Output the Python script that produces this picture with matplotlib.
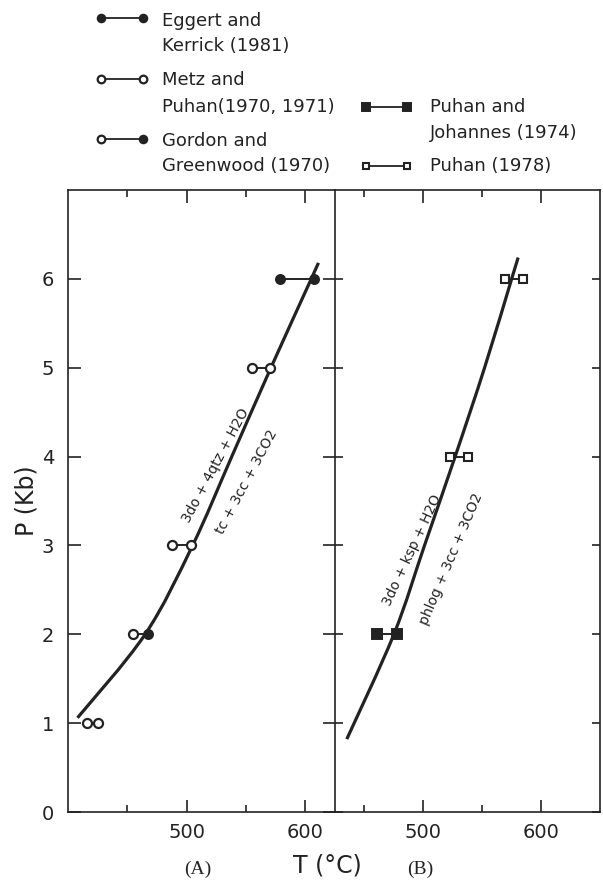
import matplotlib
matplotlib.use("Agg")
import matplotlib.pyplot as plt
from matplotlib.path import Path
from matplotlib.patches import PathPatch

# ---------------- data ----------------
# (A) 3do + 4qtz + H2O = tc + 3cc + 3CO2  (curve knots, T in degC, P in kb)
curve_a_T = [408, 465, 505, 538, 571, 605, 611]
curve_a_P = [1.06, 2.0, 3.0, 4.0, 5.0, 6.0, 6.18]

eggert_T = [579, 607]
eggert_P = 6
metz_T = [[416, 425], [488, 504], [555, 570]]
metz_P = [1, 3, 5]
gordon_T = [455, 467]
gordon_P = 2

# (B) 3do + ksp + H2O = phlog + 3cc + 3CO2
curve_b_T = [435, 475, 501, 527, 552, 575, 580.5]
curve_b_P = [0.82, 2.0, 3.0, 4.0, 5.0, 6.0, 6.24]

puhan_joh_T = [461, 478]
puhan_joh_P = 2
puhan78_T = [[523, 538], [569, 585]]
puhan78_P = [4, 6]

x_ticks = [500, 600]
x_minor = [450, 550]
y_ticks = [0, 1, 2, 3, 4, 5, 6]

legend_left = [
    ("filled", "filled", ["Eggert and", "Kerrick (1981)"]),
    ("open", "open", ["Metz and", "Puhan(1970, 1971)"]),
    ("open", "filled", ["Gordon and", "Greenwood (1970)"]),
]
legend_right = [
    ("sfilled", "sfilled", ["Puhan and", "Johannes (1974)"]),
    ("sopen", "sopen", ["Puhan (1978)"]),
]

INK = "#222222"
plt.rcParams["font.family"] = ["DejaVu Sans"]

fig = plt.figure(figsize=(6.03, 8.85), dpi=100)
W, H = 603, 885

ax_a = fig.add_axes([68 / W, 1 - 812 / H, 267 / W, 622 / H])
ax_b = fig.add_axes([335 / W, 1 - 812 / H, 265 / W, 622 / H])


def smooth_curve(ax, xs, ys, lw=2.3):
    """Draw a Catmull-Rom style Bezier path through the knots."""
    pts = list(zip(xs, ys))
    n = len(pts)
    verts = [pts[0]]
    codes = [Path.MOVETO]
    for i in range(n - 1):
        p0 = pts[i - 1] if i > 0 else pts[i]
        p1 = pts[i]
        p2 = pts[i + 1]
        p3 = pts[i + 2] if i + 2 < n else pts[i + 1]
        c1 = (p1[0] + (p2[0] - p0[0]) / 6, p1[1] + (p2[1] - p0[1]) / 6)
        c2 = (p2[0] - (p3[0] - p1[0]) / 6, p2[1] - (p3[1] - p1[1]) / 6)
        verts += [c1, c2, p2]
        codes += [Path.CURVE4] * 3
    ax.add_patch(PathPatch(Path(verts, codes), fill=False, lw=lw, edgecolor=INK,
                           capstyle="butt", zorder=2))


def marker_style(kind, size=6.5):
    if kind == "filled":
        return dict(marker="o", ms=size, mfc=INK, mec=INK, mew=1.4)
    if kind == "open":
        return dict(marker="o", ms=size, mfc="white", mec=INK, mew=1.6)
    if kind == "sfilled":
        return dict(marker="s", ms=size, mfc=INK, mec=INK, mew=1.4)
    return dict(marker="s", ms=size - 0.5, mfc="white", mec=INK, mew=1.5)


def pair(ax, T, P, left, right, size=6.5):
    ax.plot(T, [P, P], color=INK, lw=1.4, zorder=3, solid_capstyle="butt")
    ax.plot([T[0]], [P], ls="none", zorder=4, **marker_style(left, size))
    ax.plot([T[1]], [P], ls="none", zorder=4, **marker_style(right, size))


# Panel A
smooth_curve(ax_a, curve_a_T, curve_a_P)
pair(ax_a, eggert_T, eggert_P, "filled", "filled")
for T, P in zip(metz_T, metz_P):
    pair(ax_a, T, P, "open", "open")
pair(ax_a, gordon_T, gordon_P, "open", "filled")
ax_a.text(524.7, 3.90, "3do + 4qtz + H2O", rotation=62, ha="center", va="center",
          rotation_mode="anchor", fontsize=10, color=INK)
ax_a.text(550.8, 3.71, "tc + 3cc + 3CO2", rotation=62, ha="center", va="center",
          rotation_mode="anchor", fontsize=10, color=INK)

# Panel B
smooth_curve(ax_b, curve_b_T, curve_b_P)
pair(ax_b, puhan_joh_T, puhan_joh_P, "sfilled", "sfilled")
for T, P in zip(puhan78_T, puhan78_P):
    pair(ax_b, T, P, "sopen", "sopen")
ax_b.text(490.4, 2.95, "3do + ksp + H2O", rotation=65, ha="center", va="center",
          rotation_mode="anchor", fontsize=10, color=INK)
ax_b.text(523.5, 2.85, "phlog + 3cc + 3CO2", rotation=67, ha="center", va="center",
          rotation_mode="anchor", fontsize=10, color=INK)

ax_a.set_xlim(400, 625)
ax_b.set_xlim(425, 650)
for ax in (ax_a, ax_b):
    ax.set_ylim(0, 7)
    ax.set_xticks(x_ticks)
    ax.set_xticks(x_minor, minor=True)
    ax.set_yticks(y_ticks)
    for s in ax.spines.values():
        s.set_linewidth(1.2)
        s.set_color(INK)
    ax.tick_params(axis="x", which="major", direction="in", length=9, width=1.2,
                   top=True, bottom=True, labelsize=14, pad=8, colors=INK)
    ax.tick_params(axis="x", which="minor", direction="in", length=5, width=1.2,
                   top=True, bottom=True, colors=INK)

ax_a.spines["right"].set_visible(False)
ax_a.tick_params(axis="y", direction="in", length=9, width=1.2, left=True, right=True,
                 labelsize=14, pad=10, colors=INK)
ax_b.tick_params(axis="y", direction="in", length=6, width=1.2, left=True, right=True,
                 labelleft=False, colors=INK)

ax_a.set_ylabel("P (Kb)", fontsize=17, color=INK, labelpad=2)

# Overlay in pixel coordinates for the key and bottom captions
ov = fig.add_axes([0, 0, 1, 1], zorder=5)
ov.set_xlim(0, W)
ov.set_ylim(H, 0)
ov.axis("off")
ov.patch.set_alpha(0)

left_rows = [(18, [21, 46]), (79, [80, 107]), (139, [141, 166])]
for (lk, rk, lines), (hy, tys) in zip(legend_left, left_rows):
    ov.plot([101, 143], [hy, hy], color=INK, lw=1.3)
    ov.plot([101], [hy], ls="none", **marker_style(lk, 5.5))
    ov.plot([143], [hy], ls="none", **marker_style(rk, 5.5))
    for txt, ty in zip(lines, tys):
        ov.text(162, ty, txt, fontsize=13, ha="left", va="center", color=INK)

right_rows = [(107, [107, 133]), (166, [166])]
for (lk, rk, lines), (hy, tys) in zip(legend_right, right_rows):
    ov.plot([366, 407], [hy, hy], color=INK, lw=1.3)
    ov.plot([366], [hy], ls="none", **marker_style(lk, 5.5))
    ov.plot([407], [hy], ls="none", **marker_style(rk, 5.5))
    for txt, ty in zip(lines, tys):
        ov.text(430, ty, txt, fontsize=13, ha="left", va="center", color=INK)

ov.text(198, 869, "(A)", fontsize=14, family="Liberation Serif", ha="center",
        va="center", color=INK)
ov.text(420, 869, "(B)", fontsize=14, family="Liberation Serif", ha="center",
        va="center", color=INK)
ov.text(327, 866, "T (°C)", fontsize=17, ha="center", va="center", color=INK)

fig.savefig("out.png", dpi=100, facecolor="white")
